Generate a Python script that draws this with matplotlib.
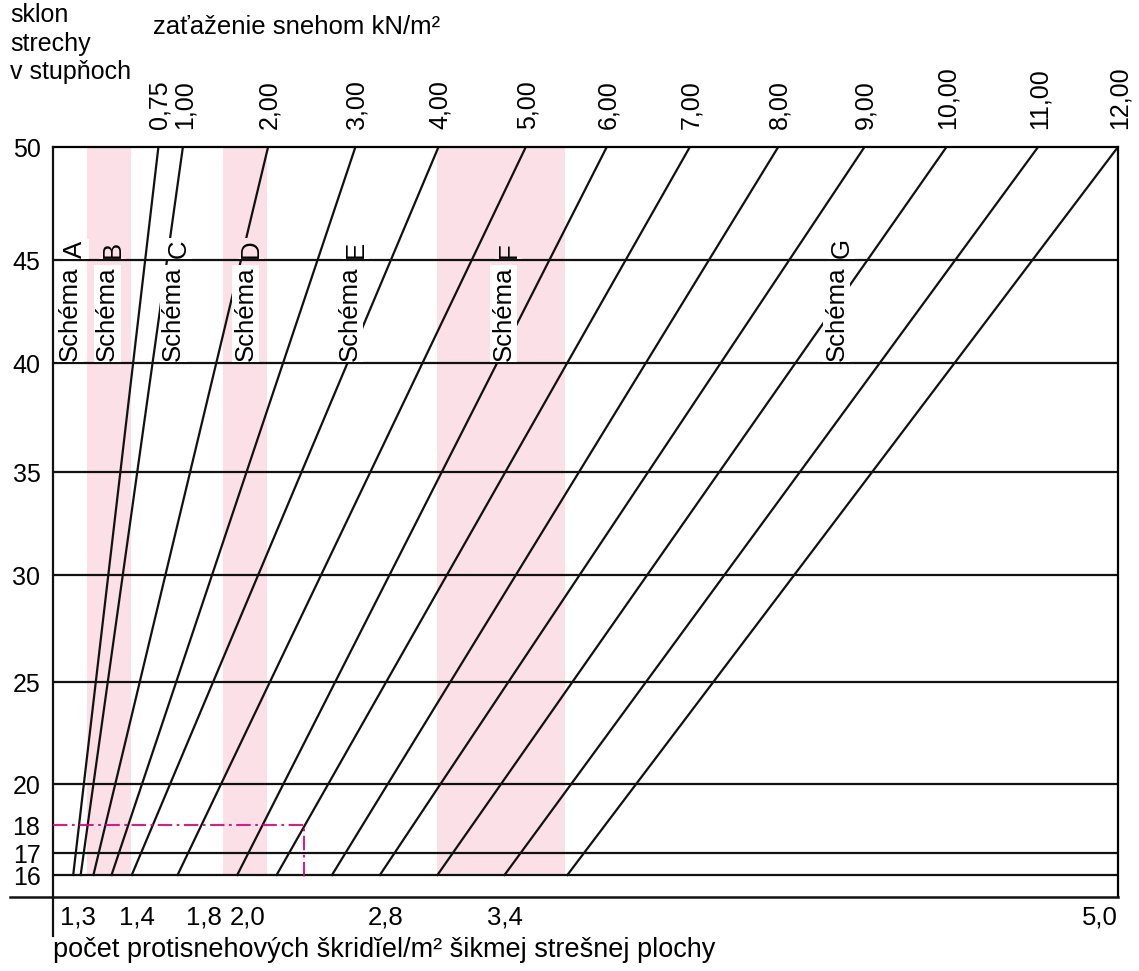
import matplotlib.pyplot as plt
import numpy as np

plt.rcParams['font.family'] = ['Liberation Sans', 'DejaVu Sans']

# zaťaženie snehom (kN/m2) - jednotlivé čiary nomogramu
loads = [0.75, 1.00, 2.00, 3.00, 4.00, 5.00, 6.00, 7.00, 8.00, 9.00, 10.00, 11.00, 12.00]
load_labels = ['0,75', '1,00', '2,00', '3,00', '4,00', '5,00', '6,00',
               '7,00', '8,00', '9,00', '10,00', '11,00', '12,00']
# poloha čiar pri sklone 50° a 16° (v % šírky grafu)
x_at_50 = [9.9, 12.2, 20.2, 28.4, 36.2, 44.4, 52.0, 59.8, 68.1, 76.2, 83.9, 92.5, 100.0]
x_at_16 = [1.9, 2.6, 3.8, 5.5, 7.4, 11.7, 17.3, 21.0, 26.2, 30.7, 36.1, 42.4, 48.3]

# sklon strechy v stupňoch
angle_ticks = [16, 17, 18, 20, 25, 30, 35, 40, 45, 50]
angle_lines = [16, 17, 20, 25, 30, 35, 40, 45]
# nelineárna stupnica sklonu (odčítaná z nomogramu)
scale_angles = [10, 15, 16, 17, 18, 20, 25, 30, 35, 40, 45, 50, 55]
scale_pos = [1004, 897, 875, 853, 825, 784, 682, 575, 472, 363, 260, 147, 40]

# schémy kladenia
schemes = ['A', 'B', 'C', 'D', 'E', 'F', 'G']
scheme_x = [1.6, 5.1, 11.3, 18.1, 27.9, 42.3, 73.6]
bands = [(3.2, 7.3), (16.0, 20.1), (36.1, 48.1)]

# počet protisnehových škridiel / m2
count_labels = ['1,3', '1,4', '1,8', '2,0', '2,8', '3,4', '5,0']
count_x = [2.3, 7.9, 14.2, 18.3, 31.2, 42.4, 98.3]

# príklad odčítania
example_angle = 18
example_x = 23.6

pink = '#fbe1e7'
ink = '#111111'

sa = np.array(scale_angles, dtype=float)
sp = -np.array(scale_pos, dtype=float)


def fwd(y):
    return np.interp(y, sa, sp)


def inv(v):
    return np.interp(v, sp, sa)


fig = plt.figure(figsize=(11.39, 9.71), dpi=100)
ax = fig.add_axes([0.0465, 0.0762, 0.9350, 0.7724])
ax.set_yscale('function', functions=(fwd, inv))
ax.set_xlim(0, 100)
ax.set_ylim(15, 50)

for a, b in bands:
    ax.fill_between([a, b], 16, 50, color=pink, lw=0, zorder=0)

ax.hlines(angle_lines, 0, 100, color=ink, lw=1.6, zorder=2)

for xb, xt in zip(x_at_16, x_at_50):
    ax.plot([xb, xt], [16, 50], color=ink, lw=1.6, zorder=2)

# osi
for s in ['left', 'bottom']:
    ax.spines[s].set_visible(False)
for s in ['top', 'right']:
    ax.spines[s].set_linewidth(1.6)
ax.plot([0, 0], [50, 13.2], color=ink, lw=1.6, clip_on=False, zorder=3)
ax.plot([-4.0, 100], [15, 15], color=ink, lw=1.8, clip_on=False, zorder=3)

# príklad
ax.plot([0, example_x, example_x], [example_angle, example_angle, 15.86],
        color='#e4007c', lw=1.3, dashes=(8, 2.5, 1.5, 2.5), zorder=4)

ax.set_yticks(angle_ticks)
ax.set_yticklabels([str(a) for a in angle_ticks])
ax.yaxis.set_minor_locator(plt.NullLocator())
ax.tick_params(axis='y', which='both', length=0, pad=9, labelsize=18)
ax.set_xticks([])

for xt, lab in zip(x_at_50, load_labels):
    ax.annotate(lab, (xt, 50), xytext=(1, 13), textcoords='offset points',
                rotation=90, ha='center', va='bottom', fontsize=18)

for xc, lab in zip(count_x, count_labels):
    ax.annotate(lab, (xc, 15), xytext=(0, -6), textcoords='offset points',
                ha='center', va='top', fontsize=18.5)

for xs, s in zip(scheme_x, schemes):
    ax.text(xs, 40.1, 'Schéma', rotation=90, ha='center', va='bottom',
            fontsize=18.5, zorder=5,
            bbox=dict(fc='white', ec='none', pad=1))
    in_band = any(a <= xs <= b for a, b in bands)
    ax.text(xs + 0.5, 45.1, s, rotation=90, ha='center', va='bottom',
            fontsize=18.5, zorder=5,
            bbox=dict(fc=pink if in_band else 'white', ec='none', pad=1))

fig.text(10 / 1139, 1 - 3 / 971, 'sklon\nstrechy\nv stupňoch', ha='left', va='top',
         fontsize=18, linespacing=1.25)
fig.text(153 / 1139, 1 - 27 / 971, 'zaťaženie snehom kN/m²', ha='left', va='center',
         fontsize=18.5)
fig.text(53 / 1139, 1 - 950 / 971, 'počet protisnehových škridĭel/m² šikmej strešnej plochy',
         ha='left', va='center', fontsize=19.5)

fig.savefig('out.png', dpi=100)
